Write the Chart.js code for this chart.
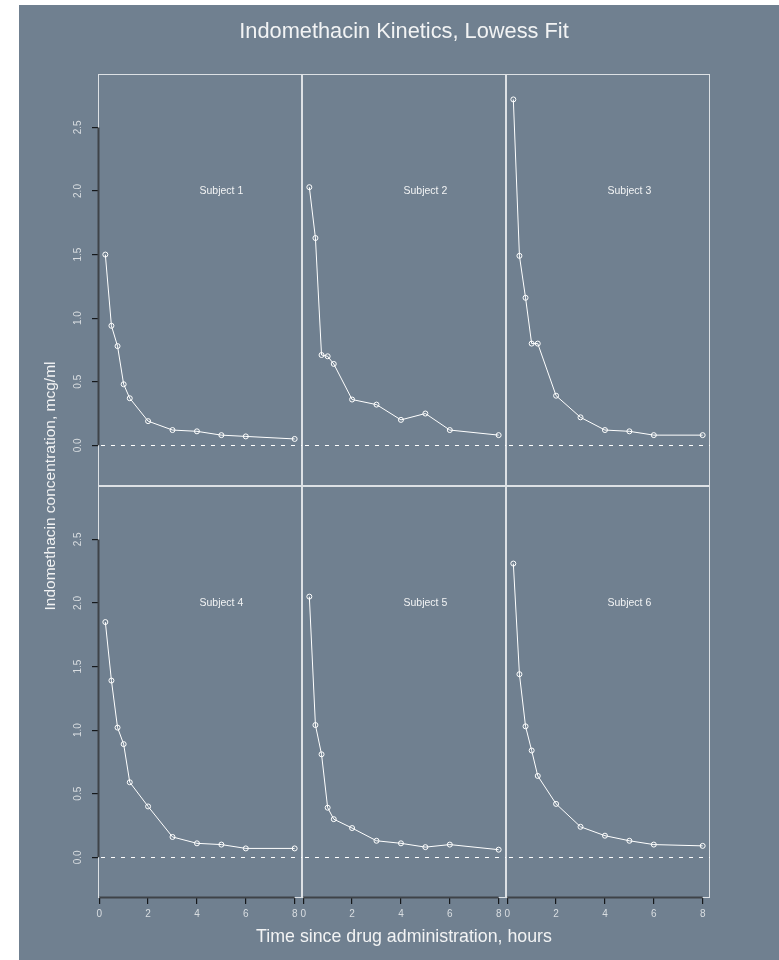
<!DOCTYPE html>
<html>
<head>
<meta charset="utf-8">
<title>Indomethacin Kinetics, Lowess Fit</title>
<script src="https://cdn.jsdelivr.net/npm/chart.js@4/dist/chart.umd.min.js"></script>
<style>
  html, body { margin: 0; padding: 0; background: #ffffff; }
  #page { position: relative; width: 779px; height: 960px; overflow: hidden; }
  #bg { position: absolute; left: 19px; top: 5px; right: 0; bottom: 0; background: #708090; }
  #page canvas { position: absolute; left: 0; top: 0; }
</style>
</head>
<body>
<div id="page">
  <div id="bg"></div>
  <canvas id="p1" width="779" height="960"></canvas>
  <canvas id="p2" width="779" height="960"></canvas>
  <canvas id="p3" width="779" height="960"></canvas>
  <canvas id="p4" width="779" height="960"></canvas>
  <canvas id="p5" width="779" height="960"></canvas>
  <canvas id="p6" width="779" height="960"></canvas>
</div>
<script>
// Sampling times (hours) shared by every subject
const times = [0.25, 0.5, 0.75, 1, 1.25, 2, 3, 4, 5, 6, 8];

// Plasma concentrations (mcg/ml) per subject
const subject1 = [1.50, 0.94, 0.78, 0.48, 0.37, 0.19, 0.12, 0.11, 0.08, 0.07, 0.05];
const subject2 = [2.03, 1.63, 0.71, 0.70, 0.64, 0.36, 0.32, 0.20, 0.25, 0.12, 0.08];
const subject3 = [2.72, 1.49, 1.16, 0.80, 0.80, 0.39, 0.22, 0.12, 0.11, 0.08, 0.08];
const subject4 = [1.85, 1.39, 1.02, 0.89, 0.59, 0.40, 0.16, 0.11, 0.10, 0.07, 0.07];
const subject5 = [2.05, 1.04, 0.81, 0.39, 0.30, 0.23, 0.13, 0.11, 0.08, 0.10, 0.06];
const subject6 = [2.31, 1.44, 1.03, 0.84, 0.64, 0.42, 0.24, 0.17, 0.13, 0.10, 0.09];

const subjectNames = ['Subject 1', 'Subject 2', 'Subject 3', 'Subject 4', 'Subject 5', 'Subject 6'];
const subjectSeries = [subject1, subject2, subject3, subject4, subject5, subject6];

// Axis ticks
const xTicks = [0, 2, 4, 6, 8];
const yTicks = [0, 0.5, 1, 1.5, 2, 2.5];

// Text
const mainTitle = 'Indomethacin Kinetics, Lowess Fit';
const xTitle = 'Time since drug administration, hours';
const yTitle = 'Indomethacin concentration, mcg/ml';

// ---- layout of the 3 x 2 trellis ----
const W = 779, H = 960;
const colLeft = [98, 302, 506];
const rowTop = [74, 486];
const panelW = 204, panelH = 412;
const X_AXIS_H = 36;
const Y_AXIS_W = 40;
const X_RANGE = [-0.05, 8.30];
const Y_RANGE = [-0.32, 2.92];

const FONT = '"Liberation Sans", Arial, Helvetica, sans-serif';
const LIGHT = '#f2f3f4';
const TICK_TEXT = '#d9dde1';
const FRAME = '#dde1e5';
const AXIS_DARK = '#3e4348';

// panel frame, zero reference line, axis segments and strip label
const panelPlugin = {
  id: 'panelDecor',
  beforeDatasetsDraw(chart, args, opts) {
    const { ctx, chartArea: a, scales: { x, y } } = chart;
    ctx.save();
    // frame
    ctx.strokeStyle = FRAME;
    ctx.lineWidth = 1;
    ctx.strokeRect(a.left + 0.5, a.top + 0.5, a.right - a.left - 1, a.bottom - a.top - 1);
    // dashed line at zero
    const y0 = Math.round(y.getPixelForValue(0)) + 0.5;
    ctx.setLineDash([4, 6]);
    ctx.strokeStyle = '#ffffff';
    ctx.beginPath();
    ctx.moveTo(a.left + 3, y0);
    ctx.lineTo(a.right, y0);
    ctx.stroke();
    ctx.setLineDash([]);
    // axis lines spanning the tick range
    ctx.strokeStyle = AXIS_DARK;
    ctx.lineWidth = 2;
    if (opts.leftAxis) {
      ctx.beginPath();
      ctx.moveTo(a.left + 0.5, y.getPixelForValue(yTicks[0]));
      ctx.lineTo(a.left + 0.5, y.getPixelForValue(yTicks[yTicks.length - 1]));
      ctx.stroke();
    }
    if (opts.bottomAxis) {
      ctx.beginPath();
      ctx.moveTo(x.getPixelForValue(xTicks[0]), a.bottom - 0.5);
      ctx.lineTo(x.getPixelForValue(xTicks[xTicks.length - 1]), a.bottom - 0.5);
      ctx.stroke();
    }
    // strip label inside the panel
    ctx.fillStyle = LIGHT;
    ctx.font = '10.5px ' + FONT;
    ctx.textAlign = 'center';
    ctx.textBaseline = 'middle';
    ctx.fillText(opts.label, x.getPixelForValue(5), y.getPixelForValue(2.0));
    ctx.restore();
  }
};

// page titles
const titlePlugin = {
  id: 'pageTitles',
  afterDraw(chart) {
    const ctx = chart.ctx;
    const cx = (colLeft[0] + colLeft[2] + panelW) / 2;
    ctx.save();
    ctx.fillStyle = LIGHT;
    ctx.textAlign = 'center';
    ctx.textBaseline = 'alphabetic';
    ctx.font = '21.8px ' + FONT;
    ctx.fillText(mainTitle, cx, 38);
    ctx.font = '17.8px ' + FONT;
    ctx.fillText(xTitle, cx, 942);
    ctx.translate(55, (rowTop[0] + rowTop[1] + panelH) / 2);
    ctx.rotate(-Math.PI / 2);
    ctx.font = '15.5px ' + FONT;
    ctx.fillText(yTitle, 0, 0);
    ctx.restore();
  }
};

subjectSeries.forEach((series, i) => {
  const col = i % 3, row = Math.floor(i / 3);
  const isLeft = col === 0, isBottom = row === 1;
  const left = colLeft[col], top = rowTop[row];
  const right = left + panelW, bottom = top + panelH;

  const padding = {
    left: isLeft ? left - Y_AXIS_W : left,
    top: top,
    right: W - right,
    bottom: isBottom ? H - bottom - X_AXIS_H : H - bottom
  };

  const plugins = [panelPlugin];
  if (i === 0) plugins.push(titlePlugin);

  new Chart(document.getElementById('p' + (i + 1)), {
    type: 'line',
    data: {
      datasets: [{
        label: subjectNames[i],
        data: times.map((t, j) => ({ x: t, y: series[j] })),
        borderColor: '#ffffff',
        borderWidth: 1,
        tension: 0,
        fill: false,
        pointRadius: 2.5,
        pointBorderWidth: 1,
        pointBorderColor: '#ffffff',
        pointBackgroundColor: 'rgba(0,0,0,0)'
      }]
    },
    options: {
      responsive: false,
      animation: false,
      devicePixelRatio: 1,
      events: [],
      layout: { padding: padding, autoPadding: false },
      plugins: {
        legend: { display: false },
        tooltip: { enabled: false },
        title: { display: false },
        panelDecor: { label: subjectNames[i], leftAxis: isLeft, bottomAxis: isBottom }
      },
      scales: {
        x: {
          type: 'linear',
          position: 'bottom',
          display: isBottom,
          min: X_RANGE[0],
          max: X_RANGE[1],
          afterBuildTicks: s => { s.ticks = xTicks.map(v => ({ value: v })); },
          afterFit: s => { if (isBottom) s.height = X_AXIS_H; },
          border: { display: false },
          grid: { drawOnChartArea: false, drawTicks: true, tickLength: 6, color: '#15181b', lineWidth: 1.2 },
          ticks: {
            color: TICK_TEXT, font: { family: FONT, size: 10 }, padding: 4,
            autoSkip: false, maxRotation: 0, minRotation: 0,
            callback: v => String(v)
          }
        },
        y: {
          type: 'linear',
          position: 'left',
          display: isLeft,
          min: Y_RANGE[0],
          max: Y_RANGE[1],
          afterBuildTicks: s => { s.ticks = yTicks.map(v => ({ value: v })); },
          afterFit: s => { if (isLeft) s.width = Y_AXIS_W; },
          border: { display: false },
          grid: { drawOnChartArea: false, drawTicks: true, tickLength: 6, color: '#15181b', lineWidth: 1.2 },
          ticks: {
            color: TICK_TEXT, font: { family: FONT, size: 10 }, padding: 7,
            autoSkip: false, minRotation: 90, maxRotation: 90, crossAlign: 'center',
            callback: v => v.toFixed(1)
          }
        }
      }
    },
    plugins: plugins
  });
});
</script>
</body>
</html>
